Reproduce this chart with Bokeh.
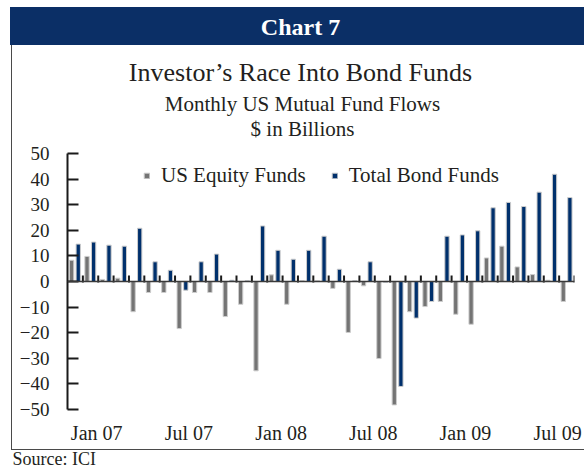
import pandas as pd
from bokeh.plotting import figure
from bokeh.layouts import column, row
from bokeh.models import Range1d, FixedTicker, Span, Legend, LegendItem, ColumnDataSource
from bokeh.core.properties import value
from bokeh.transform import dodge
from bokeh.embed import file_html
from bokeh.resources import INLINE

# ---- data (monthly US mutual fund flows, $ bn) ----
months = [d.strftime("%b %y") for d in pd.date_range("2006-12-01", periods=33, freq="MS")]
equity = [8.3, 9.8, 0.8, 1.3, -11.8, -4.3, -4.3, -18.4, -4.3, -4.3, -13.7, -8.9,
          -34.9, 2.6, -8.9, 0.3, 0.3, -2.7, -19.9, -1.7, -30.1, -48.2, -11.8, -9.8,
          -7.8, -12.8, -16.7, 9.2, 13.8, 5.7, 2.7, 0.5, -7.8]
bond = [14.6, 15.4, 14.2, 13.8, 20.8, 7.7, 4.4, -3.4, 7.7, 10.7, 0.5, 0.3,
        21.7, 12.2, 8.7, 12.2, 17.7, 4.8, 0.3, 7.7, -0.3, -41.0, -14.3, -7.8,
        17.7, 18.2, 19.8, 28.8, 30.9, 29.3, 34.9, 41.9, 32.8]
tick_labels = ["Jan 07", "Jul 07", "Jan 08", "Jul 08", "Jan 09", "Jul 09"]
y_ticks = list(range(-50, 51, 10))
header = "Chart 7"
title = "Investor\u2019s Race Into Bond Funds"
subtitles = ["Monthly US Mutual Fund Flows", "$ in Billions"]
source_note = "Source: ICI"

NAVY = "#0b2f66"
BAR_NAVY = "#00306c"
GRAY = "#747474"
OUTLINE = "#cdcdcd"
BOX = "#4a4a4a"
TXT = "#231f20"
FONT = "Liberation Serif"

W = 584
FRAME_L, FRAME_R = 67, 574      # plot frame edges (pixels), shared by aligned plots
H_TOP, H_MAIN, H_FOOT = 140, 310, 19

# ---- header: blue band (css), titles ----
header_css = {
    "background-image": f"linear-gradient({NAVY}, {NAVY}), linear-gradient({BOX}, {BOX})",
    "background-size": f"574px 38px, 1px {H_TOP - 45}px",
    "background-position": "10px 7px, 11px 45px",
    "background-repeat": "no-repeat",
}
ph = figure(width=W, height=H_TOP, x_range=Range1d(FRAME_L, FRAME_R), y_range=Range1d(H_TOP, 0),
            output_backend="svg", toolbar_location=None,
            min_border_left=FRAME_L, min_border_right=W - FRAME_R,
            min_border_top=0, min_border_bottom=0,
            background_fill_alpha=0, border_fill_alpha=0, outline_line_color=None,
            styles=header_css)
ph.axis.visible = False
ph.grid.visible = False
ph.text(x=[300], y=[26], text=[header], text_font=value(FONT), text_font_size="24px",
        text_font_style="bold", text_color="white", text_align="center", text_baseline="middle")
ph.text(x=[300], y=[72], text=[title], text_font=value(FONT), text_font_size="26px",
        text_color=TXT, text_align="center", text_baseline="middle")
ph.text(x=[302, 302], y=[103, 128], text=subtitles, text_font=value(FONT),
        text_font_size="21px", text_color=TXT, text_align="center", text_baseline="middle")

# ---- main chart ----
idx = list(range(len(months)))
src = ColumnDataSource(dict(i=idx, month=months, equity=equity, bond=bond))

box_edges = {
    "background-image": f"linear-gradient({BOX}, {BOX}), linear-gradient({BOX}, {BOX})",
    "background-size": "1px 100%, 100% 1px",
    "background-position": "11px 0px, 11px 100%",
    "background-repeat": "no-repeat",
}

p = figure(width=W, height=H_MAIN, output_backend="svg", toolbar_location=None,
           x_range=Range1d(-0.5, len(months) - 0.5), y_range=Range1d(-50, 50),
           min_border_left=FRAME_L, min_border_right=W - FRAME_R, min_border_top=13,
           min_border_bottom=41,
           background_fill_color="white", border_fill_color="white", border_fill_alpha=0,
           outline_line_color=None, styles=box_edges)
p.grid.visible = False

r_eq = p.vbar(x=dodge("i", -0.23, range=p.x_range), top="equity", bottom=0, width=0.28,
              source=src, fill_color=GRAY, line_color=OUTLINE, line_width=1)
r_bd = p.vbar(x=dodge("i", 0.2, range=p.x_range), top="bond", bottom=0, width=0.28,
              source=src, fill_color=BAR_NAVY, line_color=OUTLINE, line_width=1)

p.add_layout(Span(location=0, dimension="width", line_color="#3a3a3a", line_width=1.5))
bounds = [i + 0.5 for i in idx]
p.segment(x0=bounds, x1=bounds, y0=[-0.4] * len(bounds), y1=[2.3] * len(bounds),
          line_color="#1a1a1a", line_width=2)

ya = p.yaxis[0]
ya.ticker = FixedTicker(ticks=y_ticks)
ya.axis_line_color = "#1a1a1a"
ya.axis_line_width = 2
ya.major_tick_in = 11
ya.major_tick_out = 0
ya.major_tick_line_width = 2
ya.major_tick_line_color = "#1a1a1a"
ya.minor_tick_line_color = None
ya.minor_tick_out = 0
ya.axis_label_standoff = 0
ya.major_label_standoff = 18
ya.major_label_text_font = FONT
ya.major_label_text_font_size = "19px"
ya.major_label_text_color = TXT

xa = p.xaxis[0]
tick_idx = [i for i, m in enumerate(months) if m in tick_labels]
tick_pos = [i + 0.4 for i in tick_idx]
xa.ticker = FixedTicker(ticks=tick_pos)
xa.major_label_overrides = {pos: months[i] for pos, i in zip(tick_pos, tick_idx)}
xa.axis_line_color = None
xa.major_tick_line_color = None
xa.minor_tick_line_color = None
xa.major_tick_out = 0
xa.minor_tick_out = 0
xa.axis_label_standoff = 0
xa.major_label_standoff = 12
xa.major_label_text_font = FONT
xa.major_label_text_font_size = "20px"
xa.major_label_text_color = TXT

legend = Legend(items=[LegendItem(label="US Equity Funds", renderers=[r_eq]),
                       LegendItem(label="Total Bond Funds", renderers=[r_bd])],
                orientation="horizontal", location=(76, 221), glyph_width=7, glyph_height=7,
                label_standoff=11, spacing=25, padding=0, margin=0,
                border_line_color=None, background_fill_alpha=0,
                label_text_font=FONT, label_text_font_size="21px", label_text_color=TXT)
p.add_layout(legend, "center")

# ---- footer: source note (own row so that its frame is not aligned to the chart) ----
pf = figure(width=W, height=H_FOOT, x_range=Range1d(0, W), y_range=Range1d(H_FOOT, 0),
            output_backend="svg", toolbar_location=None,
            min_border_left=0, min_border_right=0, min_border_top=0, min_border_bottom=0,
            background_fill_alpha=0, border_fill_alpha=0, outline_line_color=None)
pf.axis.visible = False
pf.grid.visible = False
pf.text(x=[12], y=[18.5], text=[source_note], text_font=value(FONT), text_font_size="18px",
        text_color=TXT, text_align="left", text_baseline="bottom")

layout = column(ph, p, row(pf), spacing=0)
open("out.html", "w").write(file_html(layout, INLINE))
